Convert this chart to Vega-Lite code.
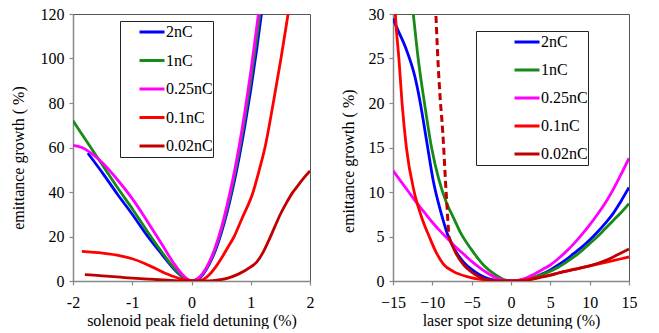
{
  "$schema": "https://vega.github.io/schema/vega-lite/v6.json",
  "padding": {"left": 10, "top": 5, "right": 5, "bottom": 0},
  "bounds": "flush",
  "spacing": 83,
  "config": {
    "font": "Liberation Serif",
    "view": {"stroke": "#555555", "strokeWidth": 1}
  },
  "datasets": {
    "left": [
      {"s": "2nC", "x": -1.75, "y": 57.5}, {"s": "2nC", "x": -1.5, "y": 48.5}, {"s": "2nC", "x": -1.25, "y": 39}, {"s": "2nC", "x": -1.0, "y": 30}, {"s": "2nC", "x": -0.75, "y": 20.5}, {"s": "2nC", "x": -0.5, "y": 12}, {"s": "2nC", "x": -0.3, "y": 5.5}, {"s": "2nC", "x": -0.15, "y": 1.8}, {"s": "2nC", "x": 0, "y": 0}, {"s": "2nC", "x": 0.1, "y": 0.6}, {"s": "2nC", "x": 0.2, "y": 3.2}, {"s": "2nC", "x": 0.3, "y": 7.6}, {"s": "2nC", "x": 0.4, "y": 13.5}, {"s": "2nC", "x": 0.5, "y": 21.3}, {"s": "2nC", "x": 0.6, "y": 30.8}, {"s": "2nC", "x": 0.7, "y": 42}, {"s": "2nC", "x": 0.8, "y": 55}, {"s": "2nC", "x": 0.9, "y": 69.7}, {"s": "2nC", "x": 1.0, "y": 86}, {"s": "2nC", "x": 1.1, "y": 104}, {"s": "2nC", "x": 1.2, "y": 124},
      {"s": "1nC", "x": -2, "y": 72}, {"s": "1nC", "x": -1.75, "y": 62}, {"s": "1nC", "x": -1.5, "y": 52}, {"s": "1nC", "x": -1.25, "y": 42}, {"s": "1nC", "x": -1.0, "y": 32.5}, {"s": "1nC", "x": -0.75, "y": 22.5}, {"s": "1nC", "x": -0.5, "y": 13}, {"s": "1nC", "x": -0.3, "y": 6}, {"s": "1nC", "x": -0.15, "y": 2}, {"s": "1nC", "x": 0, "y": 0}, {"s": "1nC", "x": 0.1, "y": 0.9}, {"s": "1nC", "x": 0.2, "y": 3.6}, {"s": "1nC", "x": 0.3, "y": 8.1}, {"s": "1nC", "x": 0.4, "y": 14.4}, {"s": "1nC", "x": 0.5, "y": 22.5}, {"s": "1nC", "x": 0.6, "y": 32.4}, {"s": "1nC", "x": 0.7, "y": 44}, {"s": "1nC", "x": 0.8, "y": 57.6}, {"s": "1nC", "x": 0.9, "y": 73}, {"s": "1nC", "x": 1.0, "y": 90}, {"s": "1nC", "x": 1.1, "y": 109}, {"s": "1nC", "x": 1.17, "y": 123},
      {"s": "0.25nC", "x": -2, "y": 61}, {"s": "0.25nC", "x": -1.85, "y": 60}, {"s": "0.25nC", "x": -1.75, "y": 58.5}, {"s": "0.25nC", "x": -1.5, "y": 53}, {"s": "0.25nC", "x": -1.25, "y": 45.5}, {"s": "0.25nC", "x": -1.0, "y": 37}, {"s": "0.25nC", "x": -0.75, "y": 27}, {"s": "0.25nC", "x": -0.5, "y": 16.5}, {"s": "0.25nC", "x": -0.3, "y": 8}, {"s": "0.25nC", "x": -0.15, "y": 2.8}, {"s": "0.25nC", "x": 0, "y": 0}, {"s": "0.25nC", "x": 0.1, "y": 0.9}, {"s": "0.25nC", "x": 0.2, "y": 3.8}, {"s": "0.25nC", "x": 0.3, "y": 8.5}, {"s": "0.25nC", "x": 0.4, "y": 15}, {"s": "0.25nC", "x": 0.5, "y": 23.5}, {"s": "0.25nC", "x": 0.6, "y": 34}, {"s": "0.25nC", "x": 0.7, "y": 46}, {"s": "0.25nC", "x": 0.8, "y": 60}, {"s": "0.25nC", "x": 0.9, "y": 76}, {"s": "0.25nC", "x": 1.0, "y": 94}, {"s": "0.25nC", "x": 1.1, "y": 114}, {"s": "0.25nC", "x": 1.14, "y": 122},
      {"s": "0.1nC", "x": -1.85, "y": 13.3}, {"s": "0.1nC", "x": -1.5, "y": 12.5}, {"s": "0.1nC", "x": -1.2, "y": 11.3}, {"s": "0.1nC", "x": -1.0, "y": 10}, {"s": "0.1nC", "x": -0.8, "y": 8}, {"s": "0.1nC", "x": -0.6, "y": 5.5}, {"s": "0.1nC", "x": -0.4, "y": 3}, {"s": "0.1nC", "x": -0.2, "y": 1.1}, {"s": "0.1nC", "x": 0, "y": 0.2}, {"s": "0.1nC", "x": 0.1, "y": 0}, {"s": "0.1nC", "x": 0.2, "y": 0.7}, {"s": "0.1nC", "x": 0.3, "y": 2.8}, {"s": "0.1nC", "x": 0.4, "y": 6}, {"s": "0.1nC", "x": 0.5, "y": 10}, {"s": "0.1nC", "x": 0.6, "y": 14.5}, {"s": "0.1nC", "x": 0.72, "y": 20}, {"s": "0.1nC", "x": 0.85, "y": 28}, {"s": "0.1nC", "x": 1.04, "y": 40}, {"s": "0.1nC", "x": 1.15, "y": 50.5}, {"s": "0.1nC", "x": 1.24, "y": 60}, {"s": "0.1nC", "x": 1.38, "y": 80}, {"s": "0.1nC", "x": 1.51, "y": 100}, {"s": "0.1nC", "x": 1.63, "y": 120}, {"s": "0.1nC", "x": 1.66, "y": 125},
      {"s": "0.02nC", "x": -1.8, "y": 2.9}, {"s": "0.02nC", "x": -1.5, "y": 2.3}, {"s": "0.02nC", "x": -1.2, "y": 1.7}, {"s": "0.02nC", "x": -1.0, "y": 1.3}, {"s": "0.02nC", "x": -0.7, "y": 0.8}, {"s": "0.02nC", "x": -0.4, "y": 0.35}, {"s": "0.02nC", "x": -0.2, "y": 0.1}, {"s": "0.02nC", "x": 0, "y": 0}, {"s": "0.02nC", "x": 0.2, "y": 0}, {"s": "0.02nC", "x": 0.4, "y": 0.3}, {"s": "0.02nC", "x": 0.6, "y": 1.2}, {"s": "0.02nC", "x": 0.8, "y": 3.2}, {"s": "0.02nC", "x": 1.0, "y": 6.3}, {"s": "0.02nC", "x": 1.1, "y": 8.5}, {"s": "0.02nC", "x": 1.2, "y": 12.5}, {"s": "0.02nC", "x": 1.3, "y": 18}, {"s": "0.02nC", "x": 1.4, "y": 24}, {"s": "0.02nC", "x": 1.5, "y": 30}, {"s": "0.02nC", "x": 1.6, "y": 35}, {"s": "0.02nC", "x": 1.7, "y": 39.5}, {"s": "0.02nC", "x": 1.8, "y": 43}, {"s": "0.02nC", "x": 1.9, "y": 46.5}, {"s": "0.02nC", "x": 2.0, "y": 49.5}
    ],
    "right": [
      {"s": "2nC", "x": -15, "y": 29.5}, {"s": "2nC", "x": -14.53, "y": 28.5}, {"s": "2nC", "x": -13.26, "y": 25.9}, {"s": "2nC", "x": -12.2, "y": 22.9}, {"s": "2nC", "x": -11.57, "y": 20.2}, {"s": "2nC", "x": -10.72, "y": 15.7}, {"s": "2nC", "x": -9.87, "y": 11.2}, {"s": "2nC", "x": -8.81, "y": 7.4}, {"s": "2nC", "x": -7.97, "y": 5}, {"s": "2nC", "x": -7, "y": 3.3}, {"s": "2nC", "x": -6, "y": 2.1}, {"s": "2nC", "x": -5, "y": 1.3}, {"s": "2nC", "x": -4, "y": 0.7}, {"s": "2nC", "x": -3, "y": 0.3}, {"s": "2nC", "x": -2, "y": 0.1}, {"s": "2nC", "x": -1, "y": 0.02}, {"s": "2nC", "x": 0, "y": 0}, {"s": "2nC", "x": 1, "y": 0.05}, {"s": "2nC", "x": 2, "y": 0.2}, {"s": "2nC", "x": 3, "y": 0.45}, {"s": "2nC", "x": 4, "y": 0.8}, {"s": "2nC", "x": 5, "y": 1.25}, {"s": "2nC", "x": 6, "y": 1.8}, {"s": "2nC", "x": 7, "y": 2.4}, {"s": "2nC", "x": 8, "y": 3.1}, {"s": "2nC", "x": 9, "y": 3.8}, {"s": "2nC", "x": 10, "y": 4.6}, {"s": "2nC", "x": 11, "y": 5.5}, {"s": "2nC", "x": 12, "y": 6.5}, {"s": "2nC", "x": 13, "y": 7.6}, {"s": "2nC", "x": 14, "y": 9}, {"s": "2nC", "x": 15, "y": 10.5},
      {"s": "1nC", "x": -12.6, "y": 31.5}, {"s": "1nC", "x": -12.42, "y": 30}, {"s": "1nC", "x": -11.8, "y": 25}, {"s": "1nC", "x": -11.0, "y": 20}, {"s": "1nC", "x": -10.1, "y": 15}, {"s": "1nC", "x": -9.2, "y": 11.5}, {"s": "1nC", "x": -8.2, "y": 8.8}, {"s": "1nC", "x": -7.2, "y": 6.9}, {"s": "1nC", "x": -6.4, "y": 5.4}, {"s": "1nC", "x": -5, "y": 3.5}, {"s": "1nC", "x": -3.5, "y": 1.8}, {"s": "1nC", "x": -2, "y": 0.7}, {"s": "1nC", "x": -1, "y": 0.2}, {"s": "1nC", "x": 0, "y": 0}, {"s": "1nC", "x": 1, "y": 0.05}, {"s": "1nC", "x": 2, "y": 0.2}, {"s": "1nC", "x": 3, "y": 0.45}, {"s": "1nC", "x": 4, "y": 0.75}, {"s": "1nC", "x": 5, "y": 1.1}, {"s": "1nC", "x": 6, "y": 1.55}, {"s": "1nC", "x": 7, "y": 2.1}, {"s": "1nC", "x": 8, "y": 2.7}, {"s": "1nC", "x": 9, "y": 3.4}, {"s": "1nC", "x": 10, "y": 4.2}, {"s": "1nC", "x": 11, "y": 5}, {"s": "1nC", "x": 12, "y": 5.9}, {"s": "1nC", "x": 13, "y": 6.8}, {"s": "1nC", "x": 14, "y": 7.7}, {"s": "1nC", "x": 15, "y": 8.7},
      {"s": "0.25nC", "x": -15, "y": 12.4}, {"s": "0.25nC", "x": -14, "y": 11.2}, {"s": "0.25nC", "x": -13, "y": 10}, {"s": "0.25nC", "x": -12, "y": 8.8}, {"s": "0.25nC", "x": -11, "y": 7.7}, {"s": "0.25nC", "x": -10, "y": 6.6}, {"s": "0.25nC", "x": -9, "y": 5.6}, {"s": "0.25nC", "x": -8, "y": 4.7}, {"s": "0.25nC", "x": -7, "y": 3.8}, {"s": "0.25nC", "x": -6, "y": 3}, {"s": "0.25nC", "x": -5, "y": 2.2}, {"s": "0.25nC", "x": -4, "y": 1.5}, {"s": "0.25nC", "x": -3, "y": 0.9}, {"s": "0.25nC", "x": -2, "y": 0.4}, {"s": "0.25nC", "x": -1, "y": 0.1}, {"s": "0.25nC", "x": 0, "y": 0}, {"s": "0.25nC", "x": 1, "y": 0.1}, {"s": "0.25nC", "x": 2, "y": 0.35}, {"s": "0.25nC", "x": 3, "y": 0.8}, {"s": "0.25nC", "x": 4, "y": 1.3}, {"s": "0.25nC", "x": 5, "y": 1.8}, {"s": "0.25nC", "x": 6, "y": 2.5}, {"s": "0.25nC", "x": 7, "y": 3.3}, {"s": "0.25nC", "x": 8, "y": 4.2}, {"s": "0.25nC", "x": 9, "y": 5.2}, {"s": "0.25nC", "x": 10, "y": 6.3}, {"s": "0.25nC", "x": 11, "y": 7.5}, {"s": "0.25nC", "x": 12, "y": 8.8}, {"s": "0.25nC", "x": 13, "y": 10.3}, {"s": "0.25nC", "x": 14, "y": 12}, {"s": "0.25nC", "x": 15, "y": 13.8},
      {"s": "0.1nC", "x": -14.85, "y": 33}, {"s": "0.1nC", "x": -14.7, "y": 30}, {"s": "0.1nC", "x": -14.25, "y": 25}, {"s": "0.1nC", "x": -13.85, "y": 20}, {"s": "0.1nC", "x": -13.3, "y": 15}, {"s": "0.1nC", "x": -12.3, "y": 10}, {"s": "0.1nC", "x": -11.3, "y": 7}, {"s": "0.1nC", "x": -10.4, "y": 5}, {"s": "0.1nC", "x": -9.5, "y": 3.2}, {"s": "0.1nC", "x": -8.6, "y": 1.9}, {"s": "0.1nC", "x": -7.3, "y": 1.05}, {"s": "0.1nC", "x": -5.6, "y": 0.5}, {"s": "0.1nC", "x": -3.1, "y": 0.1}, {"s": "0.1nC", "x": -1.5, "y": 0}, {"s": "0.1nC", "x": 0, "y": 0}, {"s": "0.1nC", "x": 2, "y": 0.15}, {"s": "0.1nC", "x": 4, "y": 0.5}, {"s": "0.1nC", "x": 5, "y": 0.65}, {"s": "0.1nC", "x": 6, "y": 0.9}, {"s": "0.1nC", "x": 8, "y": 1.3}, {"s": "0.1nC", "x": 10, "y": 1.7}, {"s": "0.1nC", "x": 12, "y": 2.1}, {"s": "0.1nC", "x": 14, "y": 2.5}, {"s": "0.1nC", "x": 15, "y": 2.7},
      {"s": "0.02nC", "x": -7.9, "y": 5}, {"s": "0.02nC", "x": -7, "y": 3.1}, {"s": "0.02nC", "x": -6, "y": 1.8}, {"s": "0.02nC", "x": -5, "y": 1.0}, {"s": "0.02nC", "x": -4, "y": 0.45}, {"s": "0.02nC", "x": -3, "y": 0.15}, {"s": "0.02nC", "x": -2, "y": 0.05}, {"s": "0.02nC", "x": 0, "y": 0}, {"s": "0.02nC", "x": 2, "y": 0.1}, {"s": "0.02nC", "x": 4, "y": 0.45}, {"s": "0.02nC", "x": 5, "y": 0.65}, {"s": "0.02nC", "x": 6, "y": 0.9}, {"s": "0.02nC", "x": 8, "y": 1.3}, {"s": "0.02nC", "x": 10, "y": 1.7}, {"s": "0.02nC", "x": 12, "y": 2.3}, {"s": "0.02nC", "x": 13, "y": 2.7}, {"s": "0.02nC", "x": 14, "y": 3.15}, {"s": "0.02nC", "x": 15, "y": 3.6}
    ],
    "dash": [
      {"s": "0.02nC", "x": -9.6, "y": 31}, {"s": "0.02nC", "x": -9.55, "y": 30}, {"s": "0.02nC", "x": -9.3, "y": 25}, {"s": "0.02nC", "x": -9.0, "y": 20.5}, {"s": "0.02nC", "x": -8.68, "y": 16.8}, {"s": "0.02nC", "x": -8.3, "y": 10.8}, {"s": "0.02nC", "x": -7.9, "y": 5}
    ]
  },
  "hconcat": [
    {
      "width": 237,
      "height": 267,
      "data": {"name": "left"},
      "mark": {"type": "line", "strokeWidth": 2.8, "interpolate": "monotone", "clip": true},
      "encoding": {
        "x": {"field": "x", "type": "quantitative", "scale": {"domain": [-2, 2], "nice": false, "zero": false},
          "axis": {"values": [-2, -1, 0, 1, 2], "title": "solenoid peak field detuning (%)", "labelExpr": "datum.value < 0 ? '-' + abs(datum.value) : datum.label",
            "grid": false, "domainColor": "#888888", "domainWidth": 1.5, "tickColor": "#888888", "tickSize": 4, "tickWidth": 1.2, "labelFont": "Liberation Serif", "labelFontSize": 16, "labelColor": "#000000", "titleFont": "Liberation Serif", "titleFontSize": 16, "titleFontWeight": "normal", "titleColor": "#000000", "labelOverlap": false, "labelBound": false, "labelSeparation": 0, "labelFlush": false, "labelPadding": 9, "titleBaseline": "alphabetic", "titleY": 44}},
        "y": {"field": "y", "type": "quantitative", "scale": {"domain": [0, 120], "nice": false},
          "axis": {"values": [0, 20, 40, 60, 80, 100, 120], "title": "emittance growth ( %)", "titleX": -49.5, "titleY": 143.5,
            "grid": false, "domainColor": "#888888", "domainWidth": 1.5, "tickColor": "#888888", "tickSize": 4, "tickWidth": 1.2, "labelFont": "Liberation Serif", "labelFontSize": 16, "labelColor": "#000000", "titleFont": "Liberation Serif", "titleFontSize": 16, "titleFontWeight": "normal", "titleColor": "#000000", "labelOverlap": false, "labelPadding": 5, "titleBaseline": "alphabetic", "titleAngle": -90}},
        "color": {
          "field": "s", "type": "nominal",
          "scale": {"domain": ["2nC", "1nC", "0.25nC", "0.1nC", "0.02nC"], "range": ["#0000FF", "#178A17", "#FF00FF", "#FF0000", "#C00000"]},
          "legend": {"orient": "none", "legendX": 47, "legendY": 7, "title": null, "strokeColor": "#222222", "fillColor": "#FFFFFF", "padding": 0, "symbolType": "stroke", "symbolSize": 625, "symbolStrokeWidth": 3, "symbolOffset": 18, "labelOffset": 0, "labelFont": "Liberation Serif", "labelFontSize": 16, "labelColor": "#000000", "clipHeight": 22, "rowPadding": 6.5}
        }
      }
    },
    {
      "width": 236,
      "height": 267,
      "encoding": {
        "x": {"field": "x", "type": "quantitative", "scale": {"domain": [-15, 15], "nice": false, "zero": false},
          "axis": {"values": [-15, -10, -5, 0, 5, 10, 15], "title": "laser spot size detuning (%)",
            "grid": false, "domainColor": "#888888", "domainWidth": 1.5, "tickColor": "#888888", "tickSize": 4, "tickWidth": 1.2, "labelFont": "Liberation Serif", "labelFontSize": 16, "labelColor": "#000000", "titleFont": "Liberation Serif", "titleFontSize": 16, "titleFontWeight": "normal", "titleColor": "#000000", "labelOverlap": false, "labelBound": false, "labelSeparation": 0, "labelFlush": false, "labelPadding": 9, "titleBaseline": "alphabetic", "titleY": 44}},
        "y": {"field": "y", "type": "quantitative", "scale": {"domain": [0, 30], "nice": false},
          "axis": {"values": [0, 5, 10, 15, 20, 25, 30], "title": "emittance growth ( %)", "titleX": -39.7, "titleY": 146.7,
            "grid": false, "domainColor": "#888888", "domainWidth": 1.5, "tickColor": "#888888", "tickSize": 4, "tickWidth": 1.2, "labelFont": "Liberation Serif", "labelFontSize": 16, "labelColor": "#000000", "titleFont": "Liberation Serif", "titleFontSize": 16, "titleFontWeight": "normal", "titleColor": "#000000", "labelOverlap": false, "labelPadding": 5, "titleBaseline": "alphabetic", "titleAngle": -90}}
      },
      "layer": [
        {
          "data": {"name": "right"},
          "mark": {"type": "line", "strokeWidth": 2.8, "interpolate": "monotone", "clip": true},
          "encoding": {
            "color": {
              "field": "s", "type": "nominal",
              "scale": {"domain": ["2nC", "1nC", "0.25nC", "0.1nC", "0.02nC"], "range": ["#0000FF", "#178A17", "#FF00FF", "#FF0000", "#C00000"]},
              "legend": {"orient": "none", "legendX": 83, "legendY": 17, "title": null, "strokeColor": "#222222", "fillColor": "#FFFFFF", "padding": 0, "symbolType": "stroke", "symbolSize": 625, "symbolStrokeWidth": 3, "symbolOffset": 37, "labelOffset": 0, "labelFont": "Liberation Serif", "labelFontSize": 16, "labelColor": "#000000", "clipHeight": 22, "rowPadding": 6}
            }
          }
        },
        {
          "data": {"name": "dash"},
          "mark": {"type": "line", "strokeWidth": 3, "interpolate": "monotone", "clip": true, "strokeDash": [7, 4], "color": "#C00000"}
        }
      ]
    }
  ],
  "resolve": {"legend": {"color": "independent"}}
}
